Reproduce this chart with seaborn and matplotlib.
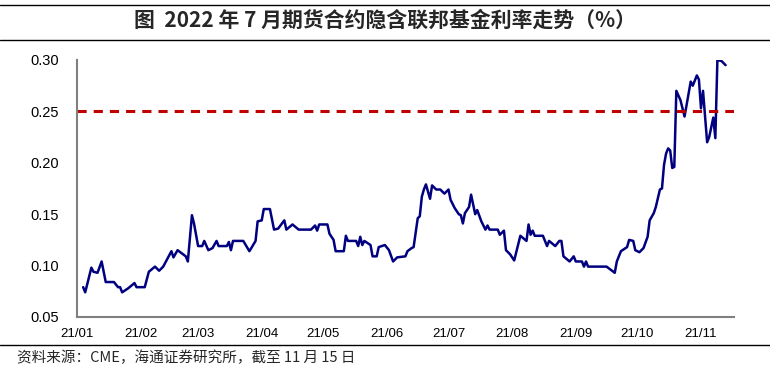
import matplotlib
matplotlib.use("Agg")
import matplotlib.pyplot as plt
import seaborn as sns
import pandas as pd

# ---- data ----
dates = [
    "2021-01-04", "2021-01-05", "2021-01-08", "2021-01-09", "2021-01-11", "2021-01-13", "2021-01-15",
    "2021-01-19", "2021-01-21", "2021-01-22", "2021-01-23", "2021-01-26", "2021-01-29", "2021-01-30",
    "2021-02-03", "2021-02-05", "2021-02-08", "2021-02-10", "2021-02-12", "2021-02-16", "2021-02-17",
    "2021-02-19", "2021-02-23", "2021-02-24", "2021-02-26", "2021-02-27", "2021-03-01", "2021-03-03",
    "2021-03-04", "2021-03-06", "2021-03-08", "2021-03-10", "2021-03-11", "2021-03-15", "2021-03-16",
    "2021-03-17", "2021-03-18", "2021-03-23", "2021-03-26", "2021-03-29", "2021-03-30", "2021-04-01",
    "2021-04-02", "2021-04-05", "2021-04-07", "2021-04-09", "2021-04-12", "2021-04-13", "2021-04-16",
    "2021-04-19", "2021-04-25", "2021-04-27", "2021-04-28", "2021-04-29", "2021-05-03", "2021-05-04",
    "2021-05-06", "2021-05-07", "2021-05-11", "2021-05-12", "2021-05-13", "2021-05-17", "2021-05-18",
    "2021-05-19", "2021-05-20", "2021-05-21", "2021-05-24", "2021-05-25", "2021-05-27", "2021-05-28",
    "2021-05-31", "2021-06-02", "2021-06-04", "2021-06-06", "2021-06-10", "2021-06-11", "2021-06-13",
    "2021-06-14", "2021-06-16", "2021-06-17", "2021-06-18", "2021-06-19", "2021-06-20", "2021-06-22",
    "2021-06-23", "2021-06-25", "2021-06-27", "2021-06-29", "2021-07-01", "2021-07-02", "2021-07-04",
    "2021-07-06", "2021-07-07", "2021-07-08", "2021-07-09", "2021-07-11", "2021-07-12", "2021-07-14",
    "2021-07-15", "2021-07-17", "2021-07-19", "2021-07-20", "2021-07-21", "2021-07-25", "2021-07-26",
    "2021-07-28", "2021-07-29", "2021-07-31", "2021-08-02", "2021-08-05", "2021-08-08", "2021-08-09",
    "2021-08-10", "2021-08-11", "2021-08-12", "2021-08-16", "2021-08-18", "2021-08-19", "2021-08-22",
    "2021-08-24", "2021-08-25", "2021-08-26", "2021-08-29", "2021-08-31", "2021-09-01", "2021-09-04",
    "2021-09-05", "2021-09-06", "2021-09-07", "2021-09-16", "2021-09-20", "2021-09-21", "2021-09-23",
    "2021-09-26", "2021-09-27", "2021-09-29", "2021-09-30", "2021-10-02", "2021-10-04", "2021-10-06",
    "2021-10-07", "2021-10-09", "2021-10-10", "2021-10-12", "2021-10-13", "2021-10-14", "2021-10-15",
    "2021-10-16", "2021-10-17", "2021-10-18", "2021-10-19", "2021-10-20", "2021-10-22", "2021-10-24",
    "2021-10-27", "2021-10-28", "2021-10-30", "2021-10-31", "2021-11-01", "2021-11-02", "2021-11-04",
    "2021-11-05", "2021-11-07", "2021-11-08", "2021-11-09", "2021-11-11", "2021-11-13",
]
rates = [
    0.079, 0.074, 0.098, 0.094, 0.093, 0.104, 0.084,
    0.084, 0.079, 0.079, 0.074, 0.078, 0.083, 0.079,
    0.079, 0.094, 0.099, 0.095, 0.099, 0.114, 0.108,
    0.115, 0.109, 0.104, 0.149, 0.141, 0.119, 0.119,
    0.124, 0.115, 0.117, 0.124, 0.119, 0.119, 0.123,
    0.115, 0.124, 0.124, 0.114, 0.124, 0.143, 0.144,
    0.155, 0.155, 0.135, 0.136, 0.144, 0.135, 0.140,
    0.135, 0.135, 0.139, 0.134, 0.140, 0.140, 0.131,
    0.125, 0.114, 0.114, 0.129, 0.124, 0.124, 0.119,
    0.128, 0.120, 0.124, 0.120, 0.109, 0.109, 0.118,
    0.120, 0.115, 0.104, 0.108, 0.109, 0.114, 0.117,
    0.118, 0.146, 0.148, 0.167, 0.174, 0.179, 0.165,
    0.178, 0.174, 0.174, 0.170, 0.174, 0.164, 0.156,
    0.150, 0.149, 0.141, 0.151, 0.157, 0.169, 0.150,
    0.154, 0.143, 0.135, 0.139, 0.135, 0.135, 0.130,
    0.134, 0.115, 0.111, 0.105, 0.129, 0.124, 0.140,
    0.130, 0.134, 0.129, 0.129, 0.119, 0.124, 0.119,
    0.124, 0.124, 0.109, 0.104, 0.109, 0.104, 0.104,
    0.099, 0.104, 0.099, 0.099, 0.093, 0.104, 0.114,
    0.118, 0.125, 0.124, 0.115, 0.113, 0.117, 0.128,
    0.144, 0.151, 0.157, 0.174, 0.175, 0.198, 0.209,
    0.214, 0.212, 0.195, 0.196, 0.270, 0.261, 0.245,
    0.279, 0.275, 0.285, 0.281, 0.253, 0.270, 0.220,
    0.225, 0.244, 0.224, 0.300, 0.299, 0.295,
]
threshold = 0.25
month_ticks = ["2021-01-01", "2021-02-01", "2021-03-01", "2021-04-01", "2021-05-01", "2021-06-01",
               "2021-07-01", "2021-08-01", "2021-09-01", "2021-10-01", "2021-11-01"]
month_labels = ["21/01", "21/02", "21/03", "21/04", "21/05", "21/06",
                "21/07", "21/08", "21/09", "21/10", "21/11"]
y_ticks = [0.05, 0.10, 0.15, 0.20, 0.25, 0.30]
title = "图  2022 年 7 月期货合约隐含联邦基金利率走势（%）"
source = "资料来源：CME，海通证券研究所，截至 11 月 15 日"

# ---- figure ----
sns.set_style("white")
plt.rcParams["font.family"] = ["Liberation Sans", "Noto Sans CJK SC", "DejaVu Sans"]

df = pd.DataFrame({"date": pd.to_datetime(dates), "rate": rates})

fig = plt.figure(figsize=(7.7, 3.75), dpi=100)
ax = fig.add_axes([0.1, 0.1547, 0.853, 0.6853])

sns.lineplot(data=df, x="date", y="rate", ax=ax, color="#000080", linewidth=1.8)
ax.axhline(threshold, color="#C00000", linewidth=2.2, dashes=(3, 2.3))

ax.set_xlim(pd.Timestamp("2021-01-01"), pd.Timestamp("2021-11-17"))
ax.set_ylim(0.05, 0.30)
ax.set_xticks(pd.to_datetime(month_ticks))
ax.set_xticklabels(month_labels)
ax.set_yticks(y_ticks)
ax.set_yticklabels([f"{v:.2f}" for v in y_ticks])
ax.set_xlabel("")
ax.set_ylabel("")

for s in ["top", "right"]:
    ax.spines[s].set_visible(False)
for s in ["left", "bottom"]:
    ax.spines[s].set_color("#808080")
    ax.spines[s].set_linewidth(1.5)
ax.tick_params(axis="both", which="major", direction="out", length=4, width=1,
               color="#808080", labelcolor="black")
ax.tick_params(axis="y", labelsize=10.5, pad=9)
ax.tick_params(axis="x", labelsize=9.5, pad=4)

# title and rules
fig.add_artist(plt.Line2D([0.0, 1.0], [0.988, 0.988], color="black", linewidth=1.0))
fig.add_artist(plt.Line2D([0.0, 1.0], [0.893, 0.893], color="black", linewidth=1.0))
fig.text(0.5, 0.945, title, ha="center", va="center", fontsize=15, fontweight="bold",
         family=["Noto Sans CJK SC", "DejaVu Sans"])
fig.add_artist(plt.Line2D([0.0, 1.0], [0.08, 0.08], color="black", linewidth=1.0))
fig.text(0.022, 0.045, source, ha="left", va="center", fontsize=10.5,
         family=["Noto Sans CJK SC", "DejaVu Sans"])

fig.savefig("out.png", dpi=100)
